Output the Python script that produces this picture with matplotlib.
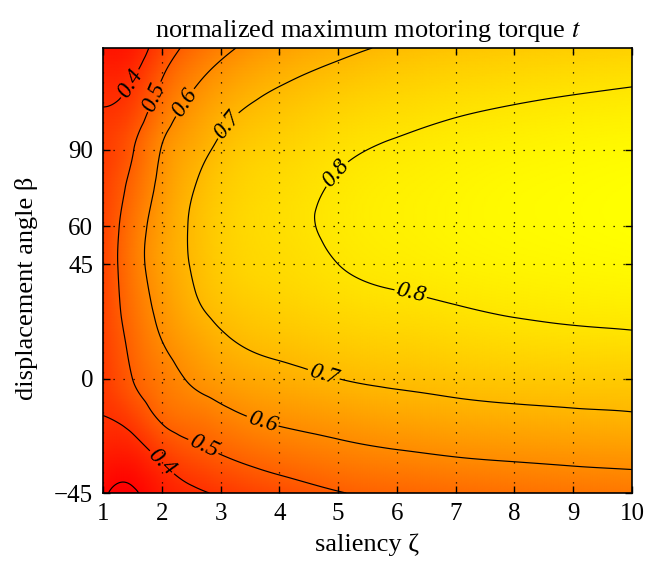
import numpy as np
import matplotlib
matplotlib.use("Agg")
import matplotlib.pyplot as plt
import matplotlib.tri as mtri

plt.rcParams["font.family"] = ["Liberation Serif", "DejaVu Serif"]
plt.rcParams["mathtext.fontset"] = "stix"

# saliency values (columns) and displacement angles (rows) of the read grid
zeta = [1, 1.5, 2, 2.5, 3, 4, 5, 6, 7, 8, 9, 10]
beta = [-45, -30, -15, 0, 15, 30, 45, 60, 75, 90, 105, 120, 130]

# normalized maximum motoring torque, one list per saliency value (along beta)
t_z1_0 = [0.310, 0.355, 0.399, 0.420, 0.432, 0.439, 0.441, 0.439, 0.433, 0.423, 0.404, 0.367, 0.340]
t_z1_5 = [0.290, 0.355, 0.436, 0.500, 0.522, 0.543, 0.556, 0.549, 0.524, 0.495, 0.444, 0.390, 0.355]
t_z2_0 = [0.350, 0.420, 0.515, 0.565, 0.600, 0.628, 0.648, 0.644, 0.625, 0.604, 0.552, 0.490, 0.445]
t_z2_5 = [0.385, 0.468, 0.548, 0.609, 0.650, 0.687, 0.703, 0.706, 0.694, 0.667, 0.626, 0.571, 0.525]
t_z3_0 = [0.410, 0.499, 0.575, 0.642, 0.688, 0.725, 0.745, 0.750, 0.740, 0.715, 0.676, 0.622, 0.578]
t_z4_0 = [0.457, 0.544, 0.617, 0.677, 0.723, 0.757, 0.777, 0.785, 0.779, 0.760, 0.728, 0.683, 0.645]
t_z5_0 = [0.496, 0.572, 0.639, 0.700, 0.744, 0.778, 0.800, 0.810, 0.806, 0.789, 0.760, 0.717, 0.683]
t_z6_0 = [0.515, 0.590, 0.658, 0.714, 0.756, 0.791, 0.815, 0.826, 0.824, 0.808, 0.780, 0.742, 0.710]
t_z7_0 = [0.528, 0.604, 0.671, 0.726, 0.768, 0.802, 0.827, 0.838, 0.836, 0.822, 0.795, 0.758, 0.727]
t_z8_0 = [0.540, 0.613, 0.680, 0.735, 0.779, 0.812, 0.836, 0.847, 0.846, 0.832, 0.806, 0.769, 0.739]
t_z9_0 = [0.549, 0.621, 0.687, 0.740, 0.785, 0.819, 0.842, 0.853, 0.852, 0.840, 0.815, 0.778, 0.749]
t_z10_0 = [0.557, 0.627, 0.693, 0.742, 0.789, 0.824, 0.847, 0.859, 0.858, 0.846, 0.822, 0.786, 0.756]

levels_unlabeled = [0.3]
levels = [0.4, 0.5, 0.6, 0.7, 0.8]
x_ticks = [1, 2, 3, 4, 5, 6, 7, 8, 9, 10]
y_ticks = [-45, 0, 45, 60, 90]
y_ticklabels = ["\u221245", "0", "45", "60", "90"]

cols = [t_z1_0, t_z1_5, t_z2_0, t_z2_5, t_z3_0, t_z4_0, t_z5_0,
        t_z6_0, t_z7_0, t_z8_0, t_z9_0, t_z10_0]
Zg, Bg = np.meshgrid(zeta, beta, indexing="ij")
T = np.array(cols)

tri = mtri.Triangulation(Zg.ravel(), Bg.ravel())
interp = mtri.CubicTriInterpolator(tri, T.ravel(), kind="min_E")

zf = np.linspace(zeta[0], zeta[-1], 300)
bf = np.linspace(beta[0], beta[-1], 300)
ZF, BF = np.meshgrid(zf, bf)
TF = np.asarray(interp(ZF, BF))

fig = plt.figure(figsize=(6.6, 5.65), dpi=100)
ax = fig.add_axes([0.1561, 0.1274, 0.8015, 0.7876])

ax.pcolormesh(ZF, BF, TF, cmap="autumn", shading="gouraud",
              vmin=np.nanmin(T), vmax=np.nanmax(T), rasterized=True)
ax.contour(ZF, BF, TF, levels=levels_unlabeled, colors="k", linewidths=0.85)
cs = ax.contour(ZF, BF, TF, levels=levels, colors="k", linewidths=0.85)

label_pos = [(1.46, 116), (2.0, -33), (1.85, 111), (2.70, -27),
             (2.36, 109), (3.72, -16.4), (3.10, 100), (4.75, 1.3),
             (4.97, 80.6), (6.22, 32)]
lbls = ax.clabel(cs, manual=label_pos, inline=True,
                 fmt="%.1f", fontsize=17, inline_spacing=2)
for t in lbls:
    t.set_fontstyle("italic")

ax.set_xlim(zeta[0], zeta[-1])
ax.set_ylim(beta[0], beta[-1])
ax.set_xticks(x_ticks)
ax.set_yticks(y_ticks)
ax.set_yticklabels(y_ticklabels)
ax.tick_params(direction="in", top=True, right=True, labelsize=18,
               length=5, width=1, pad=7)
ax.grid(True, color="k", linestyle=(0, (1, 7)), linewidth=0.9)
for s in ax.spines.values():
    s.set_linewidth(1.2)

ax.set_xlabel("saliency \u03b6", fontsize=19, labelpad=6)
ax.set_ylabel("displacement angle \u03b2", fontsize=19)
ax.yaxis.set_label_coords(-0.123, 0.46)
ax.set_title("normalized maximum motoring torque $t$", fontsize=19, pad=8)

fig.savefig("out.png", dpi=100)
